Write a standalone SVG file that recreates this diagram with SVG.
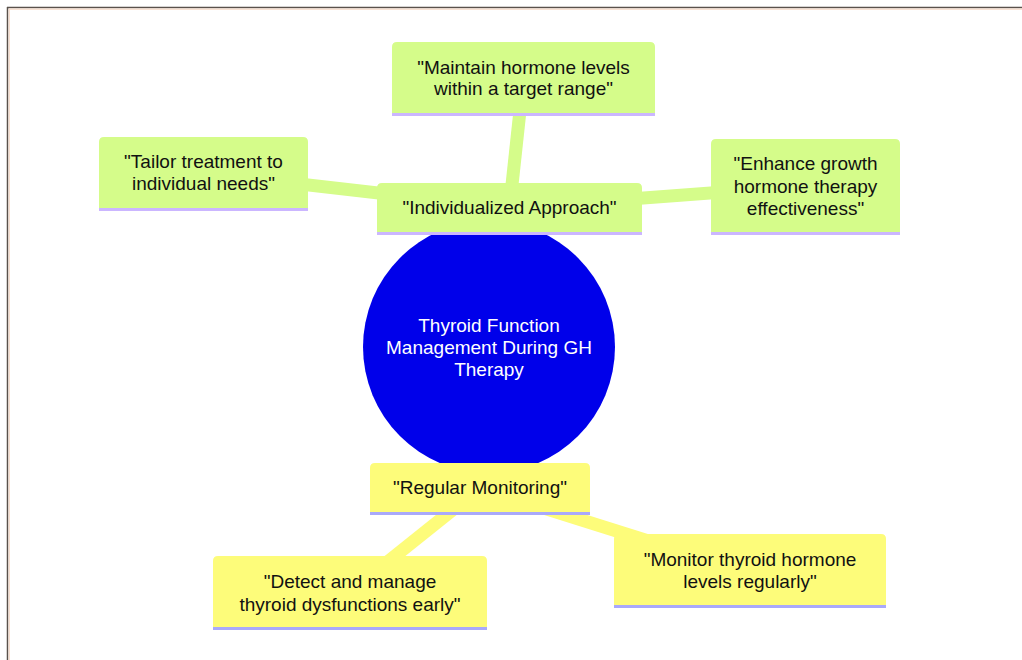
<svg xmlns="http://www.w3.org/2000/svg" width="1022" height="660" viewBox="0 0 1022 660">
<style>
.t{font-family:"Liberation Sans",Arial,sans-serif;font-size:19px;fill:#111;text-anchor:middle}
.rt{font-family:"Liberation Sans",Arial,sans-serif;font-size:19px;fill:#fff;text-anchor:middle}
.g{fill:#d5fc8a}
.y{fill:#fdfc7a}
.gl{stroke:#cbb6ff;stroke-width:3}
.yl{stroke:#a9a9fb;stroke-width:3}
.ge{stroke:#d5fc8a;stroke-width:13;fill:none}
.ye{stroke:#fdfc7a;stroke-width:13;fill:none}
</style>
<rect x="0" y="0" width="1022" height="660" fill="#fff"/>
<g id="frame">
<line x1="7" y1="7.5" x2="1022" y2="7.5" stroke="#5a524c" stroke-width="1.5"/>
<line x1="7.5" y1="7" x2="7.5" y2="660" stroke="#5a524c" stroke-width="1.5"/>
<line x1="9" y1="9.2" x2="1022" y2="9.2" stroke="#f6d9c6" stroke-width="1.2"/>
<line x1="9.2" y1="9" x2="9.2" y2="660" stroke="#f6d9c6" stroke-width="1.2"/>
</g>
<g id="connectors">
<line class="ge" x1="509.5" y1="208" x2="523.5" y2="78"/>
<line class="ge" x1="509.5" y1="208" x2="203.5" y2="173"/>
<line class="ge" x1="509.5" y1="208" x2="805.5" y2="186"/>
<line class="ye" x1="480" y1="488" x2="350" y2="592"/>
<line class="ye" x1="480" y1="488" x2="750" y2="573"/>
</g>
<g id="root">
<circle cx="489" cy="347" r="126" fill="#0000ea"/>
<text class="rt" x="489" y="332">Thyroid Function</text>
<text class="rt" x="489" y="354">Management During GH</text>
<text class="rt" x="489" y="376">Therapy</text>
</g>
<g id="individualized">
<path class="g" d="M377,232 V188 Q377,183 382,183 H637 Q642,183 642,188 V232 Z"/>
<line class="gl" x1="377" y1="233.5" x2="642" y2="233.5"/>
<text class="t" x="509.5" y="214">"Individualized Approach"</text>
</g>
<g id="maintain">
<path class="g" d="M392,113 V47 Q392,42 397,42 H650 Q655,42 655,47 V113 Z"/>
<line class="gl" x1="392" y1="114.5" x2="655" y2="114.5"/>
<text class="t" x="523.5" y="73.5">"Maintain hormone levels</text>
<text class="t" x="523.5" y="95">within a target range"</text>
</g>
<g id="tailor">
<path class="g" d="M99,208 V142 Q99,137 104,137 H303 Q308,137 308,142 V208 Z"/>
<line class="gl" x1="99" y1="209.5" x2="308" y2="209.5"/>
<text class="t" x="203.5" y="167.5">"Tailor treatment to</text>
<text class="t" x="203.5" y="190">individual needs"</text>
</g>
<g id="enhance">
<path class="g" d="M711,232 V144 Q711,139 716,139 H895 Q900,139 900,144 V232 Z"/>
<line class="gl" x1="711" y1="233.5" x2="900" y2="233.5"/>
<text class="t" x="805.5" y="170">"Enhance growth</text>
<text class="t" x="805.5" y="192.5">hormone therapy</text>
<text class="t" x="805.5" y="215">effectiveness"</text>
</g>
<g id="regular">
<path class="y" d="M370,512 V468 Q370,463 375,463 H585 Q590,463 590,468 V512 Z"/>
<line class="yl" x1="370" y1="513.5" x2="590" y2="513.5"/>
<text class="t" x="480" y="494">"Regular Monitoring"</text>
</g>
<g id="detect">
<path class="y" d="M213,627 V561 Q213,556 218,556 H482 Q487,556 487,561 V627 Z"/>
<line class="yl" x1="213" y1="628.5" x2="487" y2="628.5"/>
<text class="t" x="350" y="588">"Detect and manage</text>
<text class="t" x="350" y="610.5">thyroid dysfunctions early"</text>
</g>
<g id="monitor">
<path class="y" d="M614,605 V539 Q614,534 619,534 H881 Q886,534 886,539 V605 Z"/>
<line class="yl" x1="614" y1="606.5" x2="886" y2="606.5"/>
<text class="t" x="750" y="565.5">"Monitor thyroid hormone</text>
<text class="t" x="750" y="587.5">levels regularly"</text>
</g>
</svg>
